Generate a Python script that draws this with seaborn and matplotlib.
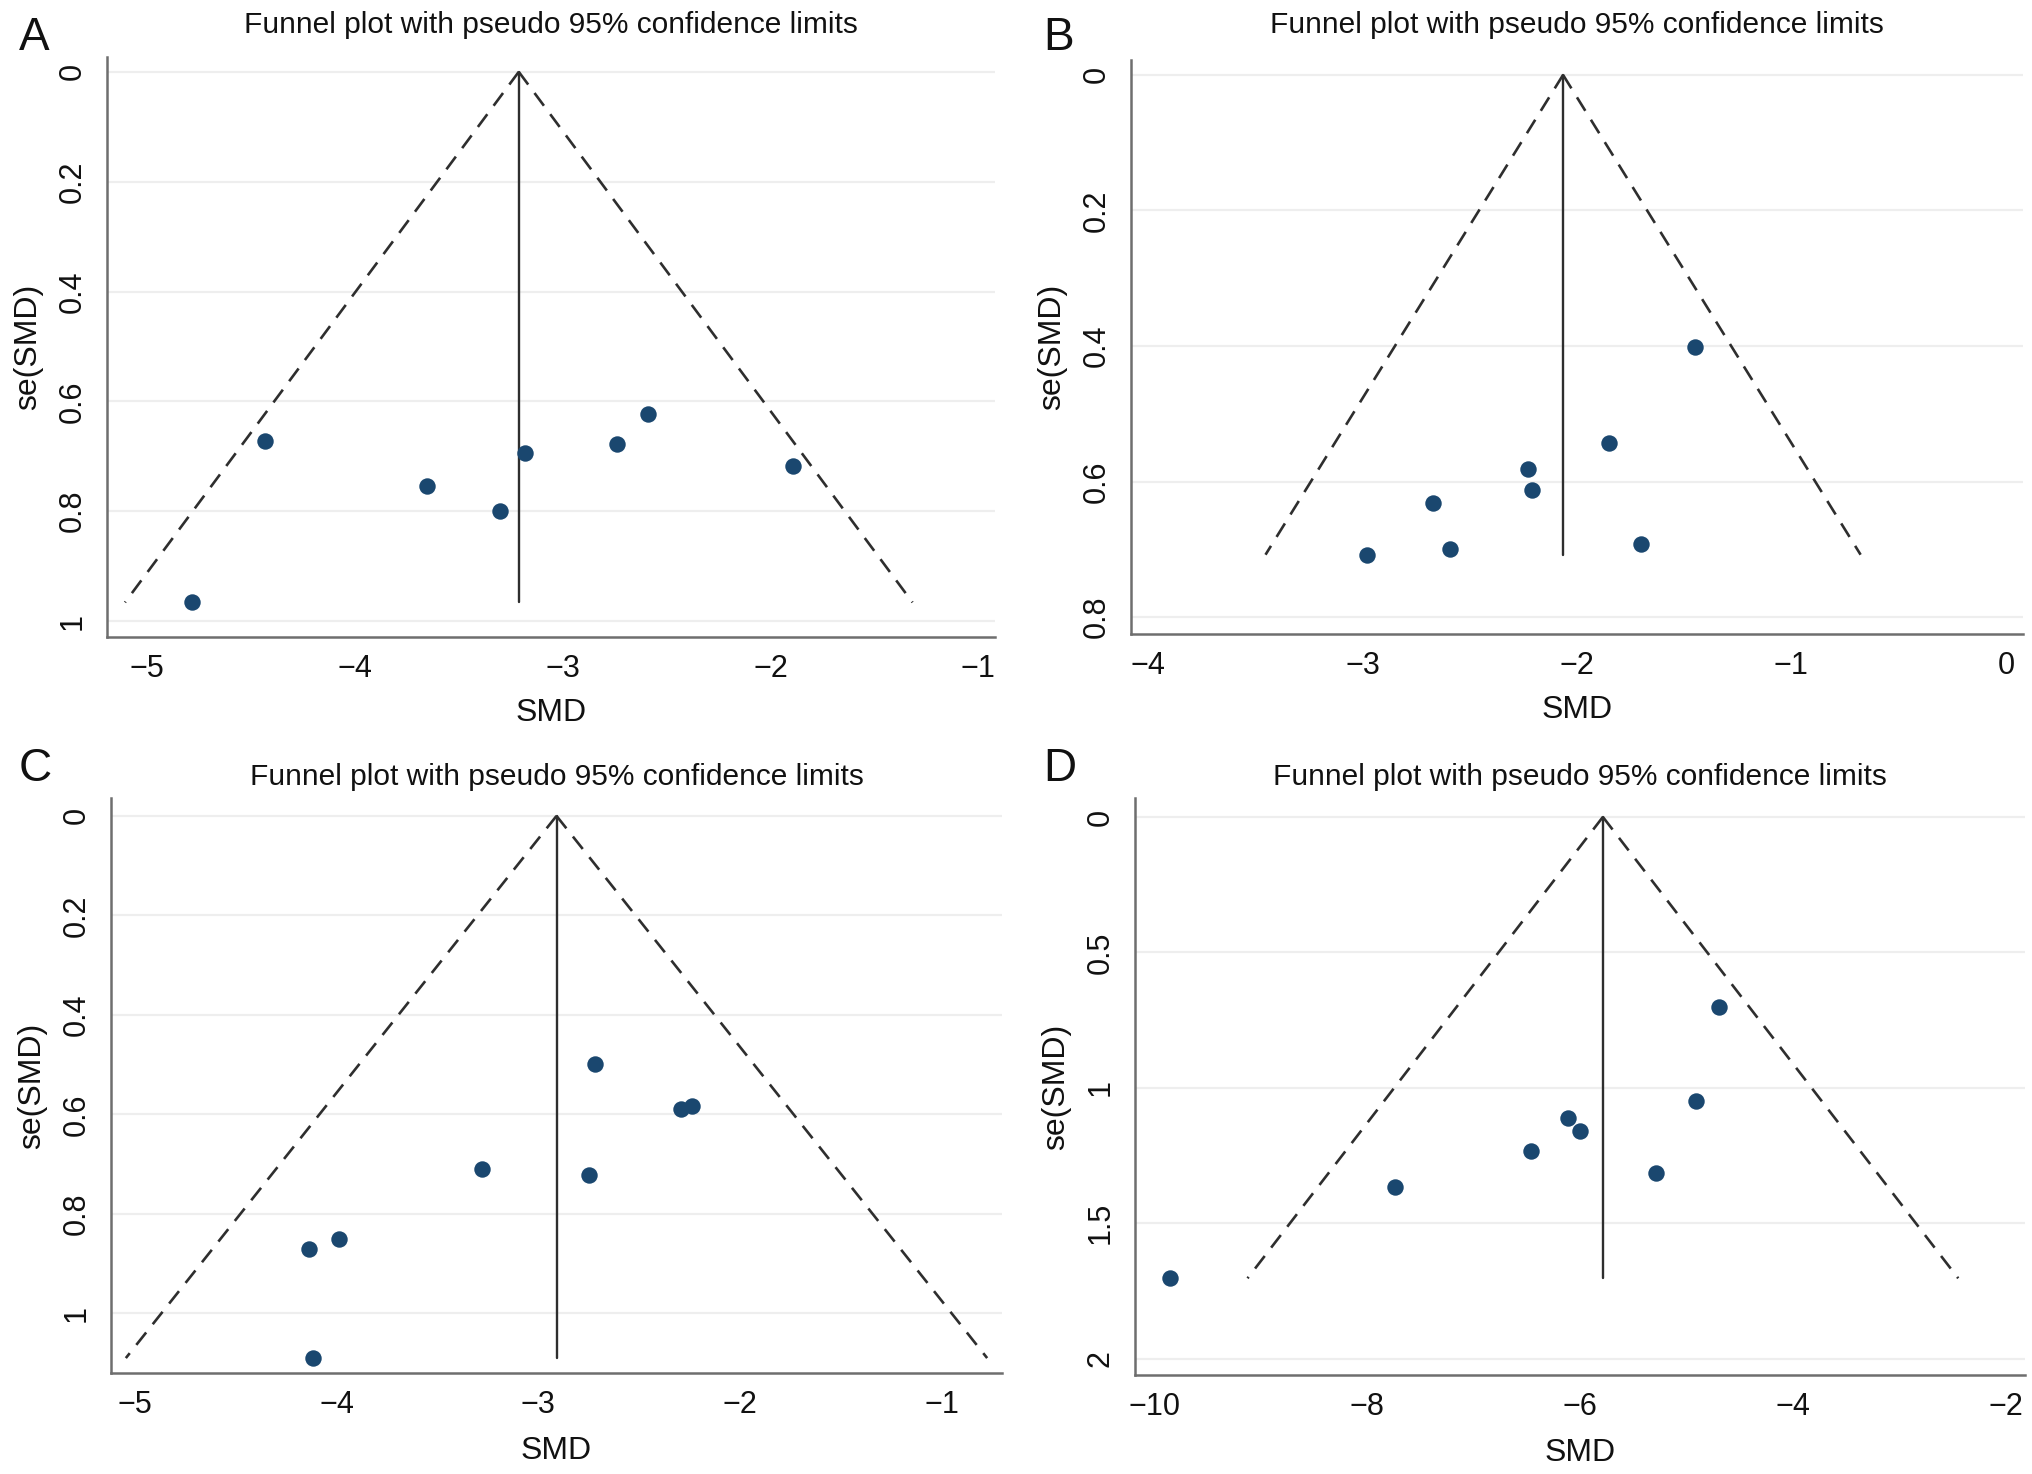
import numpy as np
import pandas as pd
import seaborn as sns
from matplotlib import pyplot as plt

# values
smd_a = [-4.78, -4.43, -3.65, -3.30, -3.18, -2.74, -2.59, -1.89]
se_a = [0.966, 0.673, 0.754, 0.799, 0.694, 0.677, 0.623, 0.717]

smd_b = [-1.45, -1.85, -2.23, -2.21, -2.67, -2.98, -2.59, -1.70]
se_b = [0.401, 0.543, 0.582, 0.613, 0.632, 0.708, 0.700, 0.692]

smd_c = [-2.72, -2.29, -2.24, -3.28, -2.75, -3.99, -4.14, -4.12]
se_c = [0.498, 0.590, 0.584, 0.709, 0.722, 0.851, 0.871, 1.090]

smd_d = [-4.69, -4.91, -6.11, -6.00, -6.46, -5.29, -7.74, -9.85]
se_d = [0.702, 1.050, 1.110, 1.159, 1.234, 1.314, 1.366, 1.703]

pooled_smd = [-3.21, -2.065, -2.91, -5.785]
panel_letters = ["A", "B", "C", "D"]
x_ticks = [[-5, -4, -3, -2, -1], [-4, -3, -2, -1, 0],
           [-5, -4, -3, -2, -1], [-10, -8, -6, -4, -2]]
y_ticks = [[0, 0.2, 0.4, 0.6, 0.8, 1], [0, 0.2, 0.4, 0.6, 0.8],
           [0, 0.2, 0.4, 0.6, 0.8, 1], [0, 0.5, 1, 1.5, 2]]
title = "Funnel plot with pseudo 95% confidence limits"

sns.set_style("white")
plt.rcParams["font.family"] = ["Liberation Sans", "DejaVu Sans"]

W, H = 2032, 1474
fig = plt.figure(figsize=(W / 100, H / 100), dpi=100)

# axes boxes in pixels: left, right, top, bottom
boxes = [(107, 995, 57, 637), (1131, 2023, 60, 634),
         (111, 1002, 798, 1373), (1135, 2025, 798, 1375)]
xlims = [(-5.19, -0.92), (-4.08, 0.08), (-5.12, -0.70), (-10.18, -1.82)]
ylims = [(1.029, -0.027), (0.825, -0.022), (1.12, -0.036), (2.06, -0.07)]
title_base = [33, 33, 785, 785]
letter_base = [50, 50, 781, 781]

smd_all = [smd_a, smd_b, smd_c, smd_d]
se_all = [se_a, se_b, se_c, se_d]

navy = "#1a476f"
axis_grey = "#6e6e6e"
line_col = "#2e2e2e"

for i in range(4):
    l, r, t, b = boxes[i]
    ax = fig.add_axes([l / W, 1 - b / H, (r - l) / W, (b - t) / H])
    df = pd.DataFrame({"SMD": smd_all[i], "se": se_all[i]})

    theta = pooled_smd[i]
    se_max = df["se"].max()
    se_line = np.array([0, se_max])
    lower = theta - 1.96 * se_line
    upper = theta + 1.96 * se_line

    for yt in y_ticks[i]:
        ax.axhline(yt, color="#eeeeee", lw=1.6, zorder=0)

    ax.plot(lower, se_line, color=line_col, lw=1.9, dashes=(6, 4), zorder=2)
    ax.plot(upper, se_line, color=line_col, lw=1.9, dashes=(6, 4), zorder=2)
    ax.plot([theta, theta], se_line, color=line_col, lw=1.7, zorder=2)

    sns.scatterplot(data=df, x="SMD", y="se", ax=ax, color=navy, s=140,
                    edgecolor=navy, linewidth=0, zorder=3)

    ax.set_xlim(*xlims[i])
    ax.set_ylim(*ylims[i])
    ax.set_xticks(x_ticks[i])
    ax.set_yticks(y_ticks[i])
    ax.set_xticklabels([f"{v:g}".replace("-", "\u2212") for v in x_ticks[i]])
    ax.set_yticklabels([f"{v:g}" for v in y_ticks[i]], rotation=90, va="center")

    for side in ["top", "right"]:
        ax.spines[side].set_visible(False)
    for side in ["left", "bottom"]:
        ax.spines[side].set_color(axis_grey)
        ax.spines[side].set_linewidth(1.8)
    ax.tick_params(axis="both", direction="out", length=7, width=1.4,
                   color=axis_grey, labelsize=22, labelcolor="#111111", pad=5)
    ax.tick_params(axis="y", pad=7)

    ax.set_xlabel("SMD", fontsize=23, color="#111111")
    ax.set_ylabel("se(SMD)", fontsize=23, color="#111111")
    ax.xaxis.label.set_va("center")
    ax.yaxis.label.set_va("center")
    ax.xaxis.set_label_coords(0.5, -(76 if i < 2 else 78) / (b - t))
    ax.yaxis.set_label_coords(-79 / (r - l), 0.5)

    fig.text((l + r) / 2 / W, 1 - title_base[i] / H, title, ha="center",
             va="baseline", fontsize=21.5, color="#111111")
    letter_x = 19 if i % 2 == 0 else 1043
    fig.text(letter_x / W, 1 - letter_base[i] / H, panel_letters[i],
             ha="left", va="baseline", fontsize=33, color="#111111")

fig.savefig("out.png", dpi=100)
